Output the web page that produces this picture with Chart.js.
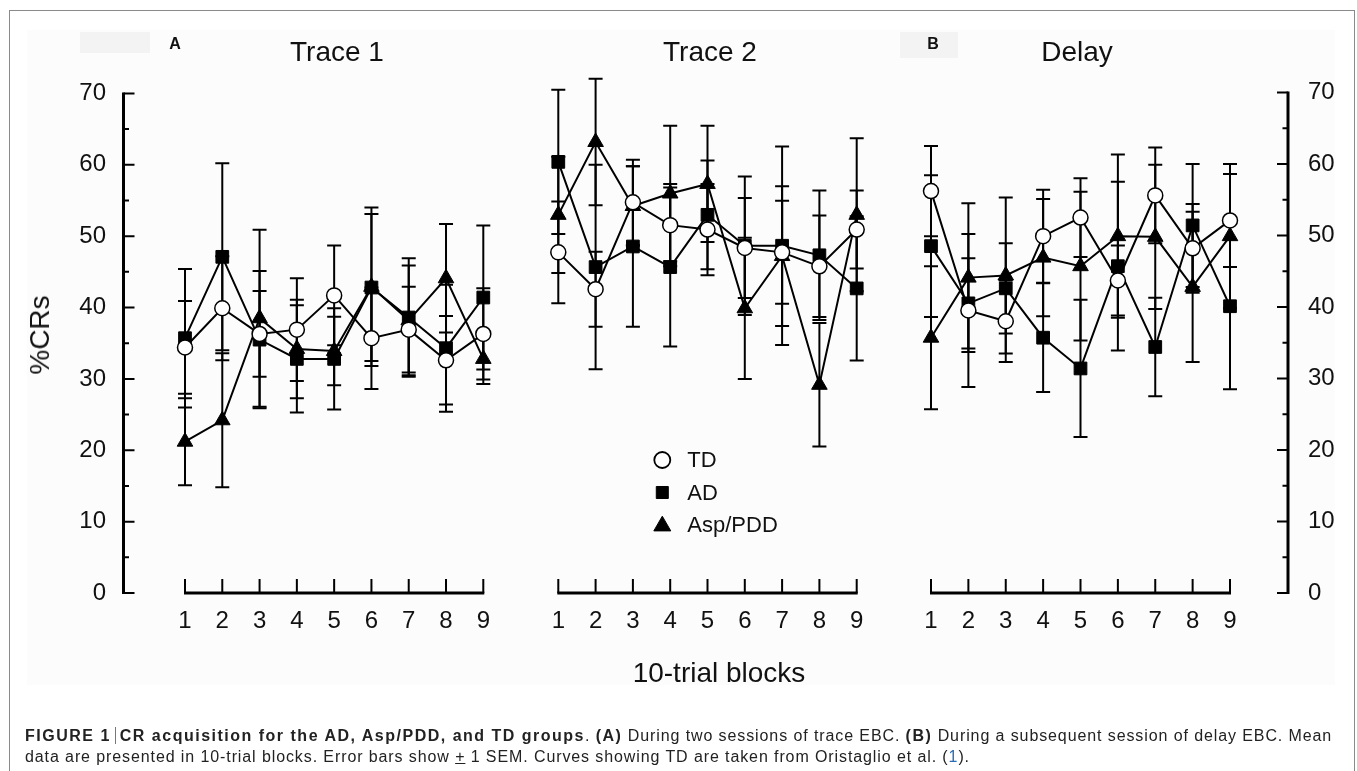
<!DOCTYPE html>
<html><head><meta charset="utf-8">
<script src="https://cdn.jsdelivr.net/npm/chart.js@4.4.1/dist/chart.umd.min.js"></script>
<style>
html,body{margin:0;padding:0;background:#fff;width:1357px;height:771px;overflow:hidden;}
#wrap{position:relative;width:1357px;height:771px;font-family:"Liberation Sans",Arial,sans-serif;color:#111;}
canvas{position:absolute;left:0;top:0;}
.t{position:absolute;white-space:nowrap;line-height:1;}
.c{transform:translate(-50%,-50%);}
.cap{left:25px;font-size:16px;color:#222;letter-spacing:0.9px;}
.cap b{letter-spacing:1.5px;}
.bar{display:inline-block;width:0;height:17px;border-left:1px solid #777;vertical-align:-3px;margin:0 4px;}
</style></head>
<body><div id="wrap">
<div style="position:absolute;left:9px;top:10px;width:1344px;height:800px;border:1px solid #8a8a8a;"></div>
<div style="position:absolute;left:27px;top:30px;width:1308px;height:655px;background:#fcfcfc;"></div>
<div style="position:absolute;left:80px;top:32px;width:70px;height:21px;background:#f3f3f3;"></div>
<div style="position:absolute;left:900px;top:32px;width:58px;height:26px;background:#f3f3f3;"></div>
<canvas id="c1" width="1357" height="771"></canvas>
<canvas id="c2" width="1357" height="771"></canvas>
<canvas id="c3" width="1357" height="771"></canvas>
<div class="t c" style="left:175px;top:44px;font-size:16px;font-weight:bold;">A</div>
<div class="t c" style="left:933px;top:44px;font-size:16px;font-weight:bold;">B</div>
<div class="t c" style="left:337px;top:52px;font-size:28px;">Trace 1</div>
<div class="t c" style="left:710px;top:52px;font-size:28px;">Trace 2</div>
<div class="t c" style="left:1077px;top:52px;font-size:28px;">Delay</div>
<div class="t" style="left:40px;top:335px;font-size:28px;transform:translate(-50%,-50%) rotate(-90deg);">%CRs</div>
<div class="t c" style="left:719px;top:673px;font-size:28px;">10-trial blocks</div>
<div class="t cap" style="top:727px;"><b>FIGURE 1</b><span class="bar"></span><b>CR acquisition for the AD, Asp/PDD, and TD groups</b>. <b>(A)</b> During two sessions of trace EBC. <b>(B)</b> During a subsequent session of delay EBC. Mean</div>
<div class="t cap" style="top:749px;">data are presented in 10-trial blocks. Error bars show <u>+</u> 1 SEM. Curves showing TD are taken from Oristaglio et al. (<span style="color:#2b6cb5">1</span>).</div>
</div>
<script>
// ---- data ----
const blocks = [1, 2, 3, 4, 5, 6, 7, 8, 9];
const yTicks = [0, 10, 20, 30, 40, 50, 60, 70];
const seriesNames = ['TD', 'AD', 'Asp/PDD'];

// Trace 1
const trace1TD = [34.4, 39.9, 36.3, 36.9, 41.7, 35.7, 36.9, 32.6, 36.3];
const trace1TDsem = [6.5, 7.3, 6.0, 7.2, 7.0, 7.1, 6.0, 6.2, 6.4];
const trace1AD = [35.7, 47.1, 35.5, 32.8, 32.8, 42.8, 38.6, 34.3, 41.4];
const trace1ADsem = [9.7, 13.1, 9.6, 7.5, 7.1, 10.3, 8.3, 8.9, 10.1];
const trace1Asp = [21.2, 24.2, 38.5, 34.2, 33.9, 42.9, 38.2, 44.1, 32.8];
const trace1Aspsem = [6.1, 9.4, 12.4, 6.9, 4.8, 11.1, 7.7, 7.6, 3.5];

// Trace 2
const trace2TD = [46.3, 41.3, 53.1, 50.0, 49.4, 46.9, 46.3, 44.4, 49.4];
const trace2TDsem = [6.9, 5.1, 5.8, 5.6, 6.2, 6.8, 7.0, 6.9, 5.3];
const trace2AD = [58.6, 44.3, 47.1, 44.3, 51.4, 47.2, 47.2, 45.9, 41.4];
const trace2ADsem = [9.8, 13.9, 10.9, 10.8, 7.4, 9.4, 13.5, 8.8, 9.8];
const trace2Asp = [51.4, 61.3, 52.6, 54.3, 55.6, 38.7, 45.8, 28.3, 51.4];
const trace2Aspsem = [7.9, 8.6, 5.4, 9.2, 7.9, 9.6, 9.5, 8.4, 10.4];

// Delay
const delayTD = [56.2, 39.5, 38.0, 49.9, 52.5, 43.7, 55.6, 48.2, 52.1];
const delayTDsem = [6.3, 10.7, 5.7, 6.5, 5.5, 4.9, 6.7, 6.2, 6.5];
const delayAD = [48.5, 40.5, 42.6, 35.7, 31.4, 45.7, 34.4, 51.4, 40.1];
const delayADsem = [9.9, 6.3, 6.3, 7.6, 9.6, 11.8, 6.9, 8.6, 11.6];
const delayAsp = [35.7, 44.1, 44.4, 46.9, 45.7, 49.9, 49.8, 42.8, 49.9];
const delayAspsem = [10.0, 10.4, 10.9, 8.2, 10.4, 11.4, 10.1, 10.5, 10.1];

// ---- styles ----
const FONT = '"Liberation Sans", Arial, sans-serif';
Chart.defaults.font.family = FONT;
Chart.defaults.color = '#111';

function toPoints(values) { return values.map((v, i) => ({x: blocks[i], y: v})); }

function makeDatasets(td, tdS, ad, adS, asp, aspS) {
  const base = {borderColor: '#000', borderWidth: 2, pointBorderColor: '#000', pointBorderWidth: 1.5, clip: false, tension: 0};
  return [
    Object.assign({}, base, {label: seriesNames[0], data: toPoints(td), sem: tdS, pointStyle: 'circle', pointRadius: 7.5, pointBackgroundColor: '#fff'}),
    Object.assign({}, base, {label: seriesNames[1], data: toPoints(ad), sem: adS, pointStyle: 'rect', pointRadius: 9, pointBackgroundColor: '#000', pointBorderWidth: 1}),
    Object.assign({}, base, {label: seriesNames[2], data: toPoints(asp), sem: aspS, pointStyle: 'triangle', pointRadius: 9, pointBackgroundColor: '#000', pointBorderWidth: 1})
  ];
}

// error bars (± 1 SEM), drawn through the chart's own scales, under the markers
const errorBars = {
  id: 'errorBars',
  beforeDatasetsDraw(chart, args, o) {
    const {ctx, scales: {x, y}} = chart;
    ctx.save();
    ctx.strokeStyle = '#000';
    ctx.lineWidth = 2;
    chart.data.datasets.forEach(ds => {
      ds.data.forEach((p, i) => {
        const px = x.getPixelForValue(p.x);
        const top = y.getPixelForValue(p.y + ds.sem[i]);
        const bot = y.getPixelForValue(p.y - ds.sem[i]);
        ctx.beginPath();
        ctx.moveTo(px, top); ctx.lineTo(px, bot);
        ctx.moveTo(px - o.cap, top); ctx.lineTo(px + o.cap, top);
        ctx.moveTo(px - o.cap, bot); ctx.lineTo(px + o.cap, bot);
        ctx.stroke();
      });
    });
    ctx.restore();
  }
};

// bracket-style axes: x line with inward ticks, detached y axis with major/minor ticks
const bracketAxes = {
  id: 'bracketAxes',
  beforeDatasetsDraw(chart, args, o) {
    const {ctx, chartArea: a, scales: {x, y}} = chart;
    ctx.save();
    ctx.strokeStyle = '#000';
    const y0 = y.getPixelForValue(0);
    const xa = x.getPixelForValue(blocks[0]);
    const xb = x.getPixelForValue(blocks[blocks.length - 1]);
    ctx.lineWidth = 3;
    ctx.beginPath(); ctx.moveTo(xa - 1, y0); ctx.lineTo(xb + 1, y0); ctx.stroke();
    ctx.lineWidth = 2;
    ctx.beginPath();
    blocks.forEach(b => { const px = x.getPixelForValue(b); ctx.moveTo(px, y0); ctx.lineTo(px, y0 - o.xTick); });
    ctx.stroke();
    if (o.yOffset !== null) {
      const ax = o.side === 'left' ? a.left - o.yOffset : a.right + o.yOffset;
      const dir = o.side === 'left' ? 1 : -1;
      ctx.lineWidth = 3;
      ctx.beginPath();
      ctx.moveTo(ax, y.getPixelForValue(yTicks[yTicks.length - 1]) - 1);
      ctx.lineTo(ax, y.getPixelForValue(yTicks[0]) + 1);
      ctx.stroke();
      ctx.lineWidth = 2;
      ctx.beginPath();
      yTicks.forEach((t, i) => {
        const py = y.getPixelForValue(t);
        ctx.moveTo(ax, py); ctx.lineTo(ax + dir * 11, py);
        if (i < yTicks.length - 1) {
          const pm = y.getPixelForValue((t + yTicks[i + 1]) / 2);
          ctx.moveTo(ax, pm); ctx.lineTo(ax + dir * 5.5, pm);
        }
      });
      ctx.stroke();
    }
    ctx.restore();
  }
};

// legend placed inside the Trace 2 plot area
const insideLegend = {
  id: 'insideLegend',
  afterDatasetsDraw(chart, args, o) {
    if (!o.show) return;
    const {ctx, chartArea: a} = chart;
    const radii = [8, 8.5, 9.8];
    ctx.save();
    chart.data.datasets.forEach((ds, i) => {
      const cx = a.left + o.dx, cy = a.top + o.dy + i * o.gap;
      ctx.fillStyle = ds.pointBackgroundColor;
      ctx.strokeStyle = '#000';
      ctx.lineWidth = i === 0 ? 1.8 : 1;
      Chart.helpers.drawPoint(ctx, {pointStyle: ds.pointStyle, rotation: 0, radius: radii[i], borderWidth: ctx.lineWidth}, cx, cy + (i === 2 ? 1 : 0));
      ctx.fillStyle = '#111';
      ctx.font = '22px ' + FONT;
      ctx.textBaseline = 'middle';
      ctx.textAlign = 'left';
      ctx.fillText(ds.label, cx + 25, cy + 1);
    });
    ctx.restore();
  }
};

function yScale(display, position, width, padding) {
  return {type: 'linear', min: yTicks[0], max: yTicks[yTicks.length - 1], display: display, position: position,
    grid: {display: false, drawTicks: false}, border: {display: false},
    ticks: {stepSize: 10, font: {size: 24}, color: '#111', padding: padding},
    afterFit(s) { s.width = width; }};
}

function makeChart(id, datasets, pad, yOpts, axisOpts, legendOpts) {
  return new Chart(document.getElementById(id), {
    type: 'line',
    data: {datasets: datasets},
    options: {
      responsive: false, animation: false, devicePixelRatio: 1,
      layout: {padding: pad},
      plugins: {legend: {display: false}, tooltip: {enabled: false}, title: {display: false},
        errorBars: {cap: 7}, bracketAxes: axisOpts, insideLegend: legendOpts},
      scales: {
        x: {type: 'linear', min: blocks[0], max: blocks[blocks.length - 1],
          grid: {display: false, drawTicks: false}, border: {display: false},
          ticks: {stepSize: 1, font: {size: 24}, color: '#111', padding: 14, maxRotation: 0, autoSkip: false},
          afterFit(s) { s.height = 40; }},
        y: yOpts
      }
    },
    plugins: [bracketAxes, errorBars, insideLegend]
  });
}

makeChart('c1', makeDatasets(trace1TD, trace1TDsem, trace1AD, trace1ADsem, trace1Asp, trace1Aspsem),
  {left: 0, right: 873.7, top: 78, bottom: 138},
  yScale(true, 'left', 185, 79), {xTick: 14, yOffset: 61.5, side: 'left'}, {show: false});
makeChart('c2', makeDatasets(trace2TD, trace2TDsem, trace2AD, trace2ADsem, trace2Asp, trace2Aspsem),
  {left: 558.3, right: 500.3, top: 78, bottom: 138},
  yScale(false, 'left', 0, 0), {xTick: 14, yOffset: null, side: 'left'}, {show: true, dx: 104, dy: 382, gap: 32.5});
makeChart('c3', makeDatasets(delayTD, delayTDsem, delayAD, delayADsem, delayAsp, delayAspsem),
  {left: 931, right: 0, top: 78, bottom: 138},
  yScale(true, 'right', 127, 78), {xTick: 14, yOffset: 58, side: 'right'}, {show: false});
</script>
</body></html>
